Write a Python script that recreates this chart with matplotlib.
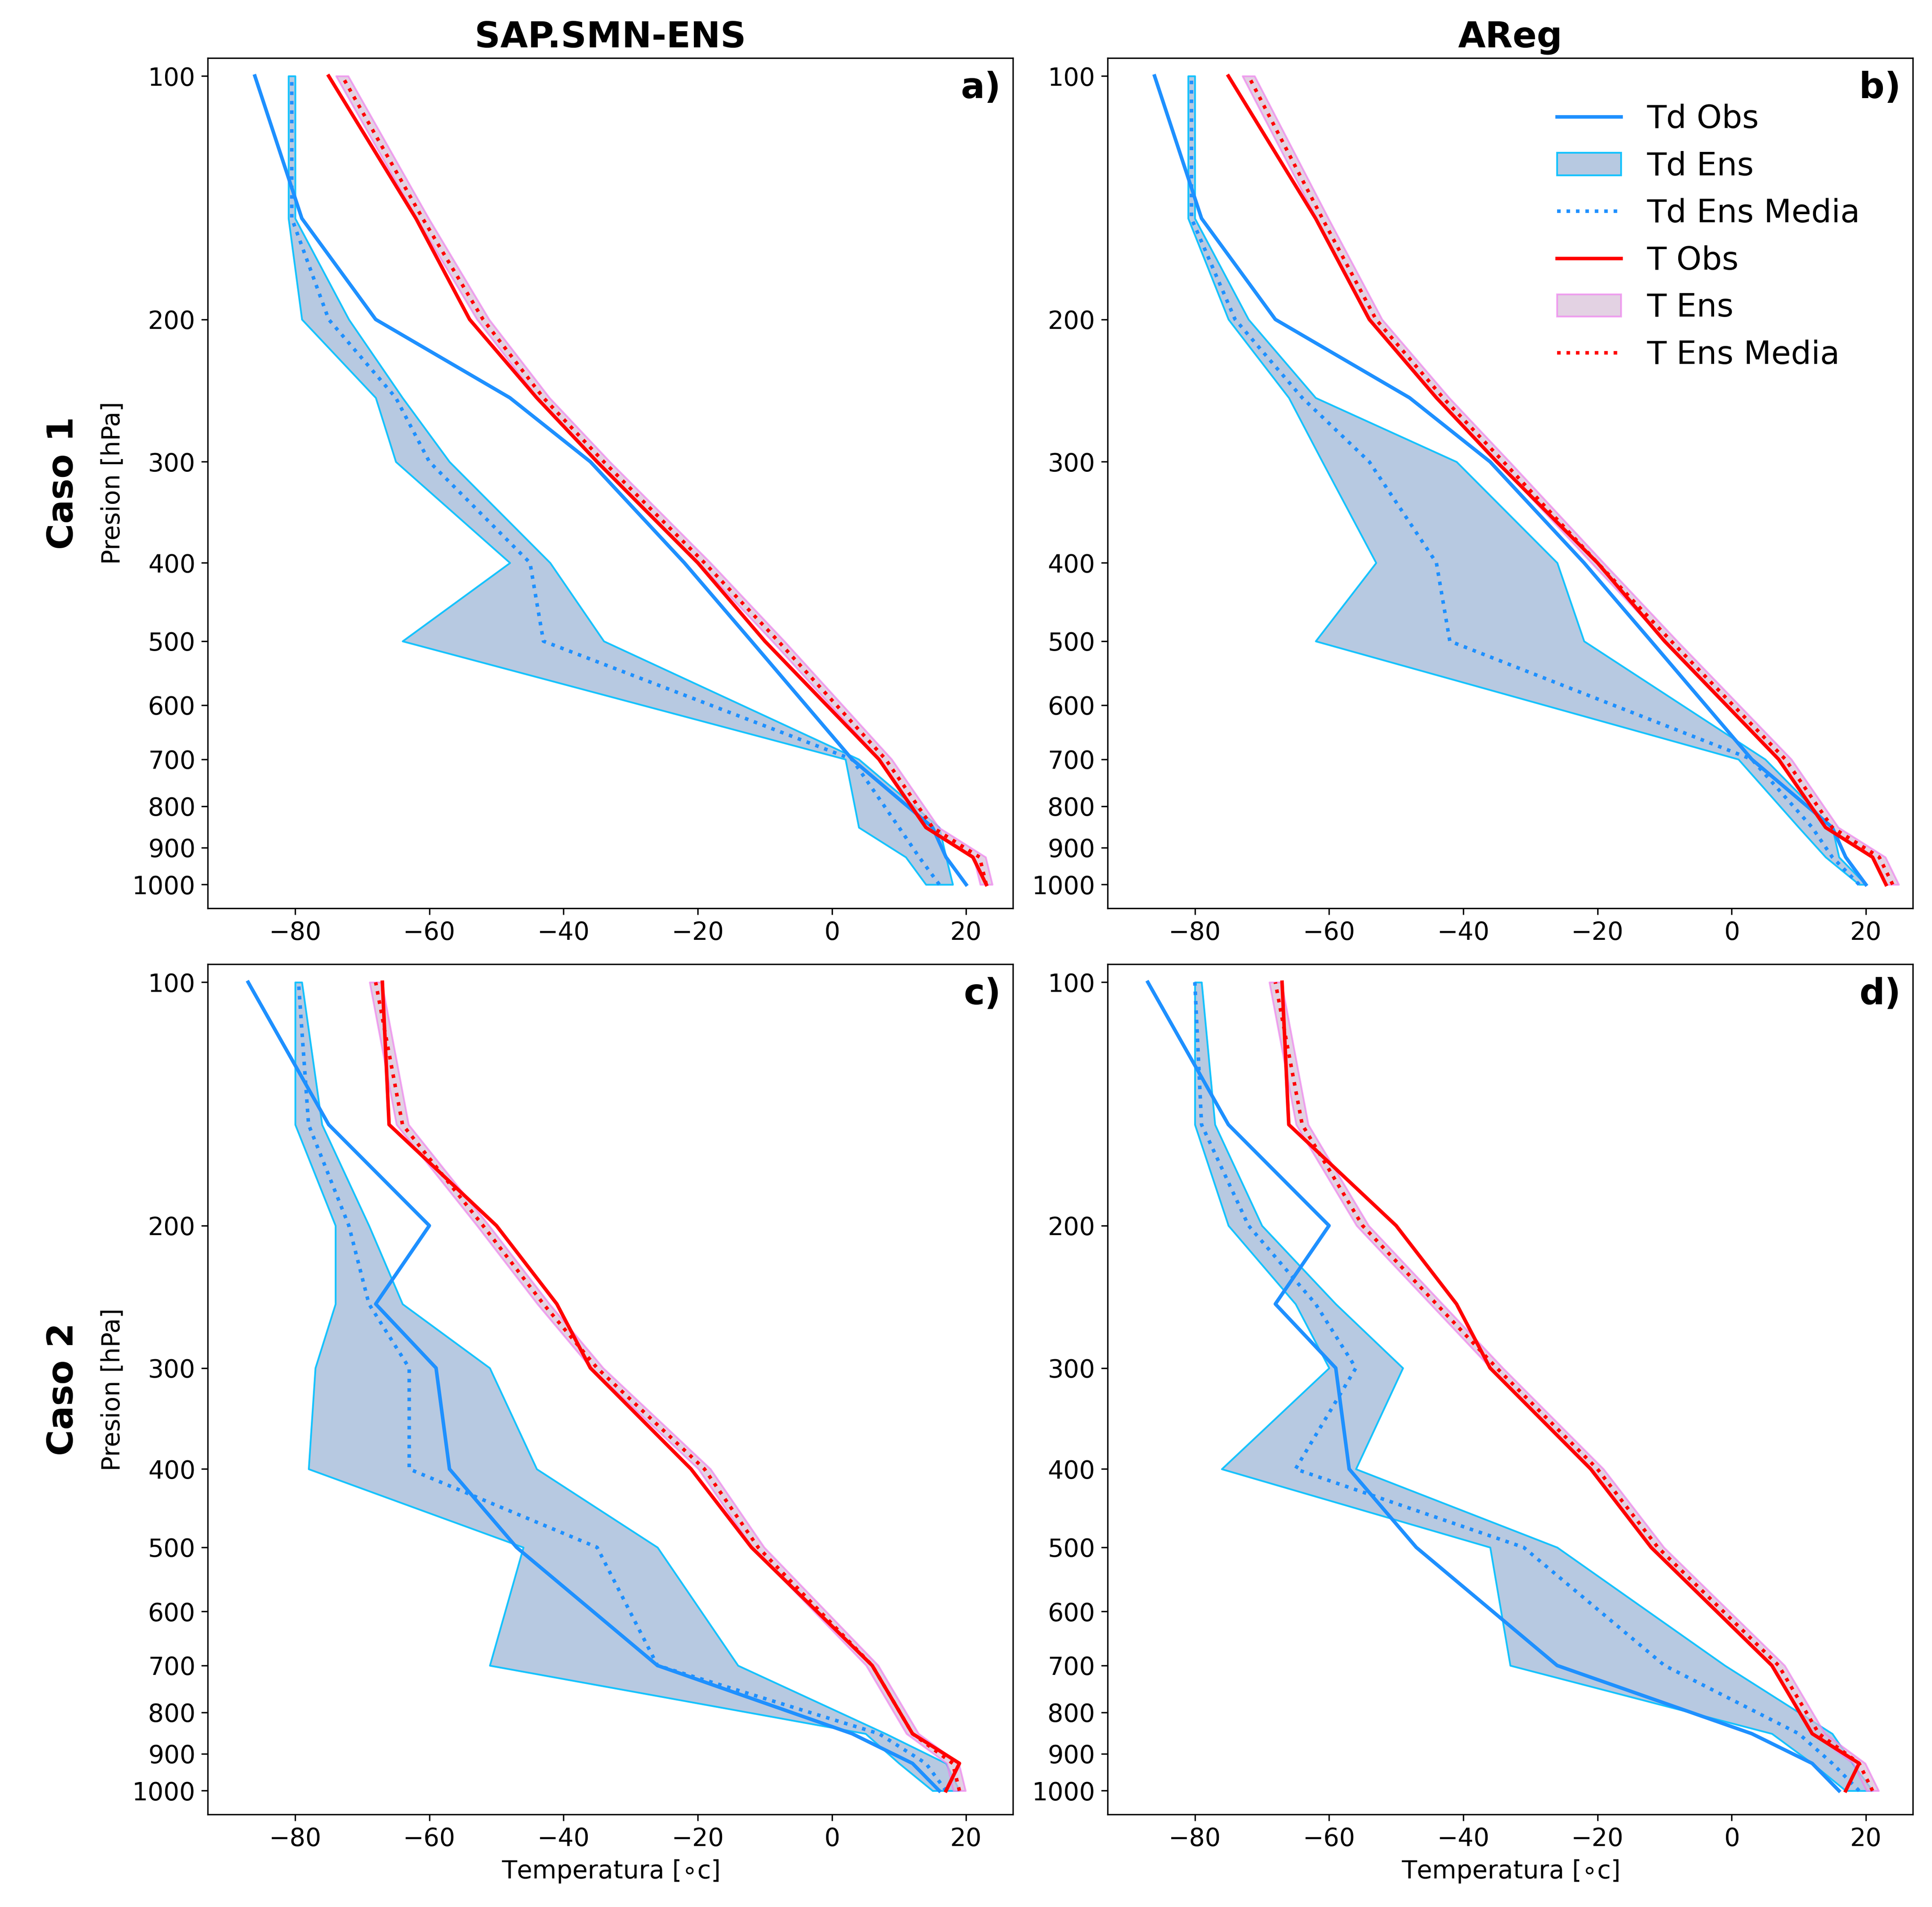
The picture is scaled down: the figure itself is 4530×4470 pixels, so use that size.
import numpy as np
import matplotlib.pyplot as plt

levels = [1000, 925, 850, 700, 500, 400, 300, 250, 200, 150, 100]

t_obs_1 = [23, 21, 14, 7, -10, -20, -35, -44, -54, -62, -75]
td_obs_1 = [20, 17, 15, 3, -12, -22, -36, -48, -68, -79, -86]
t_obs_2 = [17, 19, 12, 6, -12, -21, -36, -41, -50, -66, -67]
td_obs_2 = [16, 12, 3, -26, -47, -57, -59, -68, -60, -75, -87]

# SAP.SMN-ENS caso 1
a_td_lo = [14, 11, 4, 2, -64, -48, -65, -68, -79, -81, -81]
a_td_hi = [18, 17, 16, 4, -34, -42, -57, -64, -72, -80, -80]
a_td_mean = [16, 13, 10, 3, -43, -45, -60, -65, -75, -80.5, -80.5]
a_t_mean = [23, 22, 15, 8, -8, -19, -34, -43, -52, -61, -73]

# AReg caso 1
b_td_lo = [19, 14, 10, 1, -62, -53, -61, -66, -75, -81, -81]
b_td_hi = [20, 16, 15, 5, -22, -26, -41, -62, -72, -80, -80]
b_td_mean = [19, 15, 12, 3, -42, -44, -54, -64, -74, -80.5, -80.5]
b_t_mean = [24, 22, 15, 8, -9, -20, -34, -43, -53, -61, -72]

# SAP.SMN-ENS caso 2
c_td_lo = [15, 10, 5, -51, -46, -78, -77, -74, -74, -80, -80]
c_td_hi = [19, 17, 8, -14, -26, -44, -51, -64, -69, -76, -79]
c_td_mean = [17, 14, 7, -26, -35, -63, -63, -69, -72, -78, -79.5]
c_t_mean = [19, 18, 12, 6, -11, -19, -35, -43, -52, -64, -68]

# AReg caso 2
d_td_lo = [17, 12, 6, -33, -36, -76, -60, -65, -75, -80, -80]
d_td_hi = [21, 18, 15, -1, -26, -56, -49, -59, -70, -77, -79]
d_td_mean = [19, 15, 10, -10, -31, -65, -56, -62, -72, -79, -80]
d_t_mean = [21, 19, 13, 7, -11, -20, -35, -44, -55, -64, -68]

t_spread = 0.9


def draw_panel(ax, t_obs, td_obs, td_lo, td_hi, td_mean, t_mean, letter):
    p = np.array(levels)
    tm = np.array(t_mean)
    ax.plot(td_obs, p, color='dodgerblue', lw=2, label='Td Obs')
    ax.fill_betweenx(p, td_lo, td_hi, facecolor='lightsteelblue', edgecolor='deepskyblue',
                     alpha=0.9, lw=1, label='Td Ens')
    ax.plot(td_mean, p, color='dodgerblue', lw=2, ls=':', label='Td Ens Media')
    ax.plot(t_obs, p, color='red', lw=2, label='T Obs')
    ax.fill_betweenx(p, tm - t_spread, tm + t_spread, facecolor='thistle', edgecolor='violet',
                     alpha=0.7, lw=1, label='T Ens')
    ax.plot(t_mean, p, color='red', lw=2, ls=':', label='T Ens Media')
    ax.set_yscale('log')
    ax.set_ylim(1070, 95)
    ticks = list(range(100, 1001, 100))
    ax.set_yticks(ticks)
    ax.set_yticklabels([str(t) for t in ticks])
    ax.minorticks_off()
    ax.set_xlim(-93, 27)
    ax.tick_params(labelsize=14)
    ax.text(0.985, 0.985, letter, transform=ax.transAxes, ha='right', va='top',
            fontsize=20, fontweight='bold')


fig, axes = plt.subplots(2, 2, figsize=(15.1, 14.9))
draw_panel(axes[0, 0], t_obs_1, td_obs_1, a_td_lo, a_td_hi, a_td_mean, a_t_mean, 'a)')
draw_panel(axes[0, 1], t_obs_1, td_obs_1, b_td_lo, b_td_hi, b_td_mean, b_t_mean, 'b)')
draw_panel(axes[1, 0], t_obs_2, td_obs_2, c_td_lo, c_td_hi, c_td_mean, c_t_mean, 'c)')
draw_panel(axes[1, 1], t_obs_2, td_obs_2, d_td_lo, d_td_hi, d_td_mean, d_t_mean, 'd)')

axes[0, 0].set_title('SAP.SMN-ENS', fontsize=20, fontweight='bold')
axes[0, 1].set_title('AReg', fontsize=20, fontweight='bold')
for ax, caso in zip(axes[:, 0], ['Caso 1', 'Caso 2']):
    ax.set_ylabel('Presion [hPa]', fontsize=14)
    ax.text(-0.18, 0.5, caso, transform=ax.transAxes, rotation=90,
            ha='center', va='center', fontsize=20, fontweight='bold')
for ax in axes[1, :]:
    ax.set_xlabel('Temperatura [$\\circ$c]', fontsize=14)

axes[0, 1].legend(loc='upper right', bbox_to_anchor=(0.97, 0.98), frameon=False, fontsize=18)

plt.tight_layout(rect=[0.025, 0, 1, 1])
plt.savefig('out.png', dpi=300)
